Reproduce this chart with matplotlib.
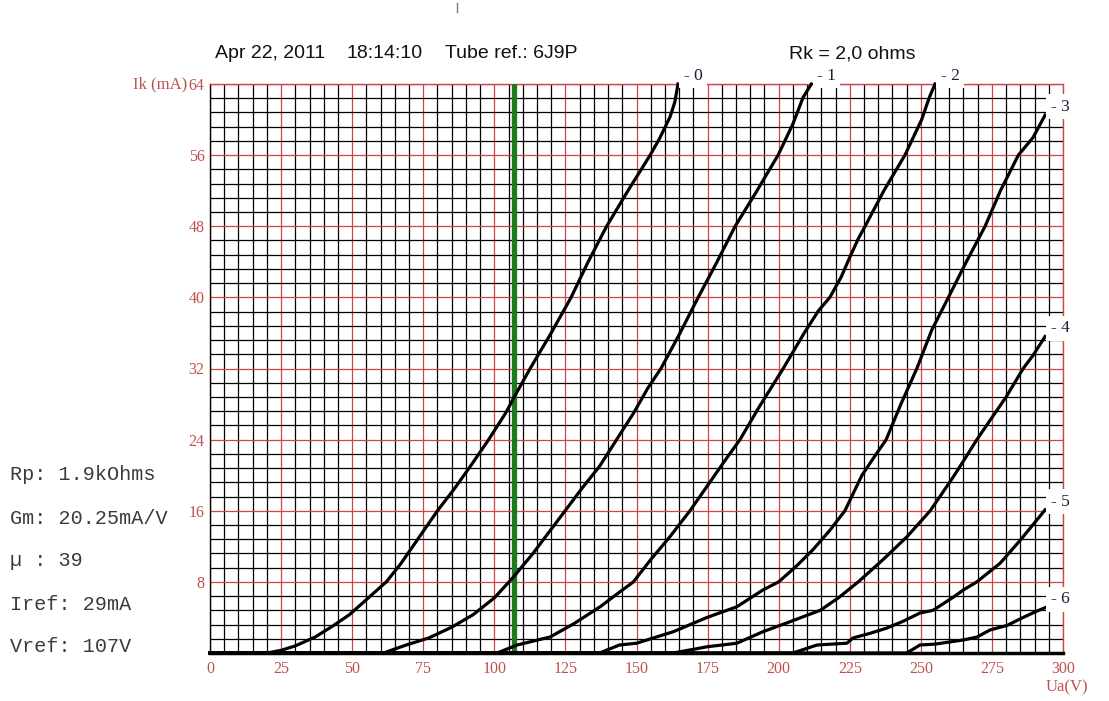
import matplotlib.pyplot as plt
from matplotlib.lines import Line2D
from matplotlib.ticker import MultipleLocator

# ── Data ───────────────────────────────────────────────────────────────────────
GRID_BIAS = ["0", "1", "2", "3", "4", "5", "6"]

UA_0 = [0, 20, 25, 30, 37, 43, 49, 55, 62, 67, 72, 80, 86, 92, 98, 104, 107,
        112.6, 120, 127, 133, 139.5, 147, 154.8, 158, 161.8, 163.5, 164.6]
IK_0 = [0, 0, 0.3, 0.8, 1.8, 3.0, 4.3, 6.0, 8.0, 10.0, 12.3, 16.0, 18.5, 21.2,
        24.0, 27.0, 28.8, 32.0, 36.0, 40.0, 44.0, 48.0, 52.0, 56.0, 57.8,
        60.3, 62.0, 64.0]

UA_1 = [0, 61, 69, 77, 85, 92.5, 100, 106.6, 113.6, 119, 124.9, 131, 137, 143,
        149, 154, 158.6, 165, 171.7, 178, 184.7, 192, 199.8, 205, 208.6, 211.5]
IK_1 = [0, 0, 0.9, 1.7, 2.9, 4.3, 6.2, 8.5, 11.2, 13.5, 16.0, 18.6, 21.0, 24.0,
        27.0, 29.8, 32.0, 35.8, 40.0, 43.8, 48.0, 51.8, 56.0, 59.5, 62.5, 64.0]

UA_2 = [0, 101, 108, 119.6, 128, 137.2, 143, 148.9, 155, 161.8, 168.8, 176,
        181, 186.4, 193, 201.6, 209, 214, 218, 222, 225, 228, 230.4, 237,
        244.4, 250.3, 253, 255]
IK_2 = [0, 0, 0.9, 1.8, 3.3, 5.2, 6.6, 8.0, 10.5, 13.1, 16.0, 19.3, 21.6, 24.0,
        27.6, 32.0, 36.0, 38.5, 40.0, 42.3, 44.5, 46.6, 48.0, 52.0, 56.0, 60.0,
        62.5, 64.0]

UA_3 = [0, 137, 144, 150, 163, 174.8, 185.3, 194.5, 200, 206, 212, 218, 223.3,
        229.3, 233.5, 237.8, 243, 248.6, 253.8, 259.7, 266, 272.6, 278, 284.3,
        289.5, 293.7]
IK_3 = [0, 0, 0.9, 1.1, 2.4, 4.0, 5.2, 7.1, 8.0, 9.7, 11.6, 13.8, 16.0, 20.0,
        22.0, 24.0, 28.0, 32.0, 36.3, 40.0, 44.0, 48.0, 52.0, 56.0, 58.0, 60.5]

UA_4 = [0, 163, 174.8, 185.3, 194.5, 203, 214.6, 221, 228, 236.7, 245.2, 253.3,
        261.4, 265, 269.7, 274.4, 280, 286, 289.5, 293.7]
IK_4 = [0, 0, 0.7, 1.1, 2.4, 3.4, 4.8, 6.2, 8.0, 10.5, 13.1, 16.0, 19.8, 21.6,
        24.0, 26.2, 28.8, 32.0, 33.5, 35.6]

UA_5 = [0, 205, 213.5, 224, 226.2, 232, 238, 244, 249.7, 254.3, 261.5, 265,
        269.7, 274, 277.9, 285, 290.9, 293.7]
IK_5 = [0, 0, 0.9, 1.1, 1.7, 2.2, 2.8, 3.6, 4.5, 4.8, 6.3, 7.1, 8.0, 9.1, 10.1,
        12.7, 15.0, 16.1]

UA_6 = [0, 245, 249.7, 255, 261.4, 265.5, 269.8, 274.4, 280.3, 286, 290, 293.7]
IK_6 = [0, 0, 0.9, 1.0, 1.3, 1.5, 1.8, 2.6, 3.1, 4.0, 4.6, 5.1]

CURVES_UA = [UA_0, UA_1, UA_2, UA_3, UA_4, UA_5, UA_6]
CURVES_IK = [IK_0, IK_1, IK_2, IK_3, IK_4, IK_5, IK_6]

V_REF = 107
X_TICKS = [0, 25, 50, 75, 100, 125, 150, 175, 200, 225, 250, 275, 300]
Y_TICKS = [8, 16, 24, 32, 40, 48, 56, 64]

INFO_LINES = ["Rp: 1.9kOhms", "Gm: 20.25mA/V", "\u00b5 : 39",
              "Iref: 29mA", "Vref: 107V"]

# ── Styling ────────────────────────────────────────────────────────────────────
W, H = 1109, 701
RED = "#d04545"
LABEL_RED = "#c0504d"
SERIF = "Liberation Serif"

fig = plt.figure(figsize=(W / 100, H / 100), dpi=100)
fig.patch.set_facecolor("white")

# plot area in pixels: x 210..1063, y 84..653
ax = fig.add_axes([210 / W, 1 - 653 / H, (1063 - 210) / W, (653 - 84) / H])
ax.set_xlim(0, 300)
ax.set_ylim(0, 64)

ax.xaxis.set_major_locator(MultipleLocator(25))
ax.xaxis.set_minor_locator(MultipleLocator(5))
ax.yaxis.set_major_locator(MultipleLocator(8))
ax.yaxis.set_minor_locator(MultipleLocator(1.6))
ax.grid(which="minor", color="black", linewidth=0.9)
ax.grid(which="major", color=RED, linewidth=0.9)
ax.set_axisbelow(True)

ax.set_xticks(X_TICKS)
ax.set_xticklabels([str(v) for v in X_TICKS])
ax.set_yticks(Y_TICKS)
ax.set_yticklabels([str(v) for v in Y_TICKS])
ax.tick_params(which="both", length=0)
ax.tick_params(axis="x", pad=6, labelsize=11.5, labelcolor=LABEL_RED)
ax.tick_params(axis="y", pad=4, labelsize=11.5, labelcolor=LABEL_RED)
for lab in ax.get_xticklabels() + ax.get_yticklabels():
    lab.set_fontfamily(SERIF)

ax.spines["left"].set_color("black")
ax.spines["left"].set_linewidth(1.0)
ax.spines["bottom"].set_color("black")
ax.spines["bottom"].set_linewidth(2.5)
ax.spines["top"].set_color(RED)
ax.spines["right"].set_color(RED)
ax.spines["top"].set_linewidth(1.0)
ax.spines["right"].set_linewidth(1.0)

# reference voltage line
ax.axvline(V_REF, color="#1e7a1e", linewidth=3.8, zorder=3)

# plate curves
for bias, ua, ik in zip(GRID_BIAS, CURVES_UA, CURVES_IK):
    ax.plot(ua, ik, color="black", linewidth=2.3, zorder=4,
            solid_joinstyle="round", clip_on=False)
    ax.annotate(f"- {bias}", xy=(ua[-1], ik[-1]), xytext=(4, 6),
                textcoords="offset points", ha="left", va="center",
                fontsize=12.5, fontfamily=SERIF, color="#1c1c3a", zorder=5,
                bbox=dict(boxstyle="square,pad=0.25", fc="white", ec="none"),
                annotation_clip=False)

# axis captions
fig.text(187 / W, 1 - 84 / H, "Ik (mA)", ha="right", va="center",
         fontsize=12, fontfamily=SERIF, color=LABEL_RED)
fig.text(1067 / W, 1 - 687 / H, "Ua(V)", ha="center", va="center",
         fontsize=12, fontfamily=SERIF, color=LABEL_RED)

# header
HEAD = "Liberation Sans"
fig.text(215 / W, 1 - 54 / H, "Apr 22, 2011", ha="left", va="center",
         fontsize=14, fontfamily=HEAD, color="#111111")
fig.text(347 / W, 1 - 54 / H, "18:14:10", ha="left", va="center",
         fontsize=14, fontfamily=HEAD, color="#111111")
fig.text(445 / W, 1 - 54 / H, "Tube ref.: 6J9P", ha="left", va="center",
         fontsize=14, fontfamily=HEAD, color="#111111")
fig.text(852 / W, 1 - 54 / H, "Rk = 2,0 ohms", ha="center", va="center",
         fontsize=14, fontfamily=HEAD, color="#111111")

# small mark at the top edge
fig.add_artist(Line2D([457 / W, 457 / W], [1 - 3 / H, 1 - 12 / H],
                      color="#777777", linewidth=1))

# tube parameters on the left
for i, line in enumerate(INFO_LINES):
    fig.text(10 / W, 1 - (475 + 43 * i) / H, line, ha="left", va="center",
             fontsize=14.5, fontfamily="Liberation Mono", color="#3a3a3a")

fig.savefig("out.png", dpi=100, facecolor="white")
